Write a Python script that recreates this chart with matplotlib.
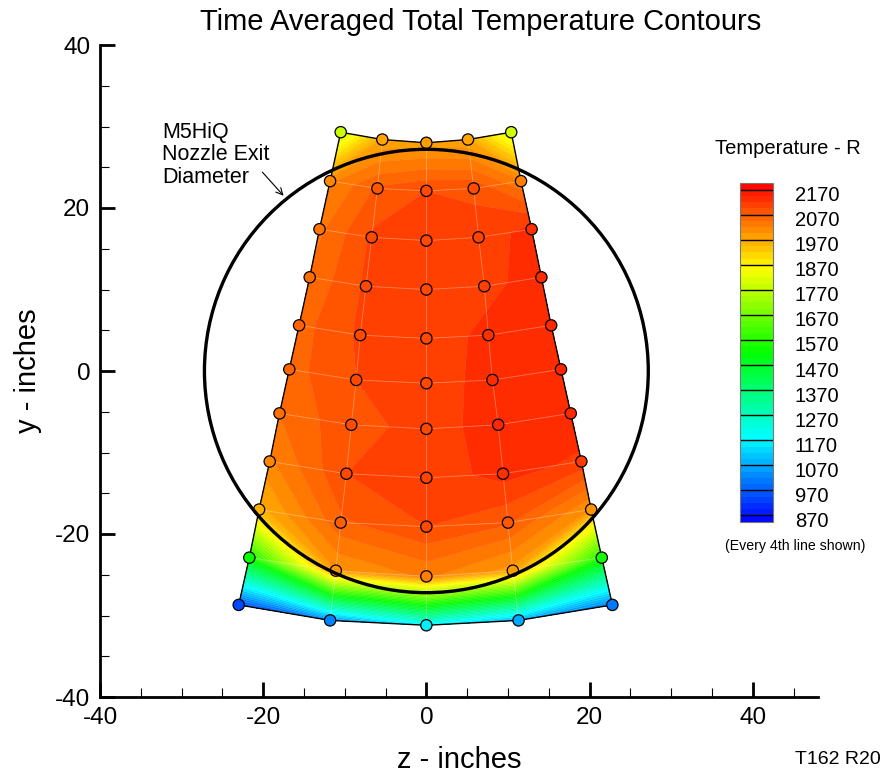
import numpy as np
import matplotlib
matplotlib.use('Agg')
import matplotlib.pyplot as plt
from matplotlib.colors import LinearSegmentedColormap
from matplotlib.patches import Circle
import matplotlib.transforms as mtransforms

plt.rcParams['font.family'] = ['Liberation Sans', 'DejaVu Sans']
plt.rcParams['axes.unicode_minus'] = False

# rake probe positions (inches), rows top -> bottom, columns left -> right
z_pts = [
    [-10.5, -5.4, 0, 5.1, 10.4],
    [-11.8, -6.0, 0, 5.8, 11.6],
    [-13.1, -6.7, 0, 6.4, 12.9],
    [-14.3, -7.4, 0, 7.1, 14.1],
    [-15.6, -8.1, 0, 7.6, 15.3],
    [-16.8, -8.6, 0, 8.1, 16.5],
    [-18.0, -9.2, 0, 8.8, 17.7],
    [-19.2, -9.8, 0, 9.4, 19.0],
    [-20.5, -10.5, 0, 10.0, 20.2],
    [-21.7, -11.1, 0, 10.6, 21.5],
    [-23.0, -11.8, 0, 11.3, 22.8],
]
y_pts = [
    [29.3, 28.4, 28.0, 28.4, 29.3],
    [23.3, 22.4, 22.1, 22.4, 23.3],
    [17.4, 16.4, 16.0, 16.4, 17.4],
    [11.5, 10.4, 10.0, 10.4, 11.5],
    [5.6, 4.4, 4.0, 4.4, 5.6],
    [0.2, -1.1, -1.5, -1.1, 0.2],
    [-5.2, -6.6, -7.1, -6.6, -5.2],
    [-11.1, -12.6, -13.1, -12.6, -11.1],
    [-17.0, -18.6, -19.1, -18.6, -17.0],
    [-22.9, -24.5, -25.2, -24.5, -22.9],
    [-28.7, -30.6, -31.2, -30.6, -28.7],
]
# time averaged total temperature (R)
temp = [
    [1785, 1975, 1985, 1975, 1795],
    [2015, 2075, 2095, 2090, 2025],
    [2040, 2100, 2100, 2105, 2130],
    [2050, 2100, 2100, 2110, 2135],
    [2060, 2100, 2100, 2130, 2140],
    [2060, 2095, 2100, 2135, 2145],
    [2045, 2090, 2100, 2140, 2140],
    [2015, 2095, 2105, 2130, 2115],
    [1960, 2065, 2095, 2075, 1995],
    [1530, 1995, 2025, 1985, 1545],
    [940, 1020, 1165, 1070, 1005],
]

nozzle_radius = 27.2
levels = np.arange(845, 2196, 25)
cbar_ticks = np.arange(870, 2171, 100)

Z = np.array(z_pts)
Y = np.array(y_pts)
T = np.array(temp)

cmap = LinearSegmentedColormap.from_list(
    'small_rainbow', ['#0000ff', '#00ffff', '#00ff00', '#ffff00', '#ff0000'])
norm = plt.Normalize(levels[0], levels[-1])

fig = plt.figure(figsize=(8.84, 7.73), dpi=100)
ax = fig.add_axes([100/884, 76/773, 718/884, 652/773])

cf = ax.contourf(Z, Y, T, levels=levels, cmap=cmap, norm=norm)
ax.contour(Z, Y, T, levels=levels, colors='white', linewidths=0.3, alpha=0.25)

# mesh lines
for i in range(Z.shape[0]):
    ax.plot(Z[i], Y[i], color='white', lw=0.6, alpha=0.35)
for j in range(Z.shape[1]):
    ax.plot(Z[:, j], Y[:, j], color='white', lw=0.6, alpha=0.35)

# outline of the rake coverage
bz = np.concatenate([Z[:, 0], Z[-1, 1:], Z[-2::-1, -1], Z[0, -2::-1]])
by = np.concatenate([Y[:, 0], Y[-1, 1:], Y[-2::-1, -1], Y[0, -2::-1]])
ax.plot(bz, by, color='k', lw=1)

ax.scatter(Z, Y, c=T, cmap=cmap, norm=norm, s=66, edgecolors='k',
           linewidths=0.9, zorder=5)

ax.add_patch(Circle((0, 0), nozzle_radius, fill=False, color='k', lw=2.4, zorder=6))

ax.annotate('', xy=(-17.5, 21.5), xytext=(-20.1, 24.4),
            arrowprops=dict(arrowstyle='->', lw=0.8, color='k',
                            shrinkA=0, shrinkB=0, mutation_scale=12))
ax.text(-32.4, 30.6, 'M5HiQ\nNozzle Exit\nDiameter', ha='left', va='top',
        fontsize=15.5, linespacing=1.1)

ax.set_xlim(-40, 48)
ax.set_ylim(-40, 40)
ax.spines['top'].set_visible(False)
ax.spines['right'].set_visible(False)
ax.spines['left'].set_linewidth(2)
ax.spines['bottom'].set_linewidth(2)
ax.set_xticks([-40, -20, 0, 20, 40])
ax.set_xticks(np.arange(-35, 46, 5), minor=True)
ax.set_yticks([-40, -20, 0, 20, 40])
ax.set_yticks(np.arange(-35, 40, 5), minor=True)
ax.tick_params(which='major', direction='in', length=11, width=2, labelsize=17.5, pad=7)
ax.tick_params(which='minor', direction='in', length=6.5, width=0.8)

ax.set_xlabel('z - inches', fontsize=21, va='center')
ax.xaxis.set_label_coords(0.5, -63/652)
ax.set_ylabel('y - inches', fontsize=21, va='center')
ax.yaxis.set_label_coords(-72/718, 0.5)

fig.text(481/884, 1 - 22/773, 'Time Averaged Total Temperature Contours',
         ha='center', va='center', fontsize=21)

# colour legend
cax = fig.add_axes([740/884, (773 - 521.7)/773, 32.7/884, 338.4/773])
cb = fig.colorbar(cf, cax=cax, ticks=cbar_ticks)
cb.ax.tick_params(length=0, labelsize=14.5, pad=16)
for t in cbar_ticks:
    cax.axhline(t, color='k', lw=1)
cb.outline.set_edgecolor('#777777')
cb.outline.set_linewidth(0.8)
shift = mtransforms.ScaledTranslation(0, -4/100, fig.dpi_scale_trans)
for lab in cb.ax.get_yticklabels():
    lab.set_transform(lab.get_transform() + shift)

fig.text(787.5/884, 1 - 148/773, 'Temperature - R', ha='center', va='center', fontsize=14.5)
fig.text(795/884, 1 - 546/773, '(Every 4th line shown)', ha='center', va='center', fontsize=10.2)
fig.text(881/884, 1 - 759/773, 'T162 R20', ha='right', va='center', fontsize=14)

fig.savefig('out.png', dpi=100)
